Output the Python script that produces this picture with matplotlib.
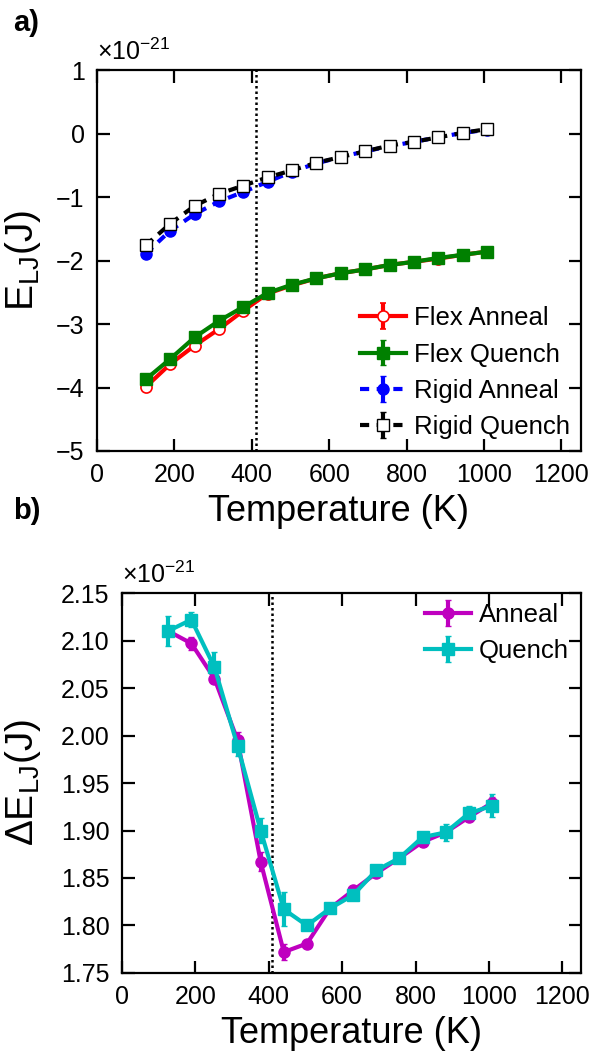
import matplotlib
matplotlib.use("Agg")
import matplotlib.pyplot as plt
from matplotlib.ticker import MultipleLocator, FormatStrFormatter

plt.rcParams['font.family'] = ['Liberation Sans', 'DejaVu Sans']
plt.rcParams['axes.unicode_minus'] = True

# temperatures (K); energies in units of 1e-21 J
temps = [126, 189, 252, 315, 378, 441, 504, 567, 630, 693, 756, 819, 882, 945, 1008]

flex_anneal = [-3.99, -3.63, -3.34, -3.08, -2.79, -2.52, -2.39, -2.28, -2.20, -2.14, -2.07, -2.02, -1.97, -1.91, -1.86]
flex_quench = [-3.87, -3.55, -3.21, -2.95, -2.73, -2.51, -2.38, -2.28, -2.20, -2.14, -2.07, -2.02, -1.96, -1.91, -1.86]
rigid_anneal = [-1.89, -1.53, -1.27, -1.07, -0.92, -0.76, -0.60, -0.47, -0.37, -0.28, -0.20, -0.13, -0.06, 0.01, 0.06]
rigid_quench = [-1.76, -1.42, -1.14, -0.95, -0.82, -0.69, -0.58, -0.46, -0.37, -0.28, -0.19, -0.13, -0.06, 0.01, 0.07]
flex_anneal_err = [0.02] * 14 + [0.05]
flex_quench_err = [0.02] * 14 + [0.05]
rigid_anneal_err = [0.02] * 15
rigid_quench_err = [0.02] * 15

delta_anneal = [2.110, 2.097, 2.060, 1.995, 1.867, 1.772, 1.781, 1.818, 1.837, 1.855, 1.871, 1.888, 1.898, 1.914, 1.929]
delta_quench = [2.110, 2.122, 2.072, 1.989, 1.900, 1.817, 1.800, 1.818, 1.832, 1.858, 1.871, 1.893, 1.898, 1.918, 1.926]
delta_anneal_err = [0.004, 0.007, 0.004, 0.009, 0.010, 0.008, 0.003, 0.003, 0.003, 0.003, 0.003, 0.004, 0.005, 0.004, 0.006]
delta_quench_err = [0.016, 0.008, 0.016, 0.011, 0.013, 0.018, 0.004, 0.003, 0.004, 0.003, 0.003, 0.005, 0.009, 0.008, 0.012]

t_transition = 410

fig = plt.figure(figsize=(5.92, 10.53), dpi=100)
ax1 = fig.add_axes([0.164, 0.5717, 0.817, 0.3618])
ax2 = fig.add_axes([0.206, 0.076, 0.775, 0.3608])


def style_axes(ax):
    for s in ax.spines.values():
        s.set_linewidth(1.6)
    ax.tick_params(direction='in', length=9, width=1.6, top=True, right=True,
                   labelsize=18, pad=9)
    ax.set_xlim(0, 1250)
    ax.xaxis.set_major_locator(MultipleLocator(200))


# Panel a
ax1.errorbar(temps, flex_anneal, yerr=flex_anneal_err, color='red', lw=3,
             marker='o', ms=8, mfc='white', mec='red', mew=1.2, capsize=2,
             label='Flex Anneal')
ax1.errorbar(temps, flex_quench, yerr=flex_quench_err, color='#008000', lw=3,
             marker='s', ms=8, capsize=2, label='Flex Quench')
ax1.errorbar(temps, rigid_anneal, yerr=rigid_anneal_err, color='blue', lw=3,
             ls=(0, (2.2, 1.8)), marker='o', ms=8, capsize=2, label='Rigid Anneal')
ax1.errorbar(temps, rigid_quench, yerr=rigid_quench_err, color='black', lw=3,
             ls=(0, (2.2, 1.8)), marker='s', ms=8.5, mfc='white', mec='black',
             mew=1.0, capsize=2, label='Rigid Quench')
ax1.axvline(t_transition, color='black', ls=(0, (1, 1.2)), lw=1.8)
style_axes(ax1)
ax1.set_ylim(-5, 1)
ax1.yaxis.set_major_locator(MultipleLocator(1))
ax1.set_xlabel('Temperature (K)', fontsize=26, labelpad=5)
ax1.set_ylabel('E$_\\mathregular{LJ}$(J)', fontsize=28)
ax1.yaxis.set_label_coords(-0.112, 0.5)
ax1.text(0.0, 1.012, '×10$^{\\mathregular{-21}}$', transform=ax1.transAxes,
         fontsize=18, ha='left', va='bottom')
ax1.legend(loc='lower right', bbox_to_anchor=(1.025, -0.03), frameon=False,
           fontsize=18.5, handlelength=1.8, handletextpad=0.3, labelspacing=0.48)
fig.text(0.022, 0.978, 'a)', fontsize=21, fontweight='bold', ha='left', va='center')

# Panel b
ax2.errorbar(temps, delta_anneal, yerr=delta_anneal_err, color='#BF00BF', lw=3,
             marker='o', ms=8, capsize=2.5, label='Anneal')
ax2.errorbar(temps, delta_quench, yerr=delta_quench_err, color='#00BFBF', lw=3,
             marker='s', ms=8, capsize=2.5, label='Quench')
ax2.axvline(t_transition, color='black', ls=(0, (1, 1.2)), lw=1.8)
style_axes(ax2)
ax2.set_ylim(1.75, 2.15)
ax2.yaxis.set_major_locator(MultipleLocator(0.05))
ax2.yaxis.set_major_formatter(FormatStrFormatter('%.2f'))
ax2.set_xlabel('Temperature (K)', fontsize=26, labelpad=5)
ax2.set_ylabel('ΔE$_\\mathregular{LJ}$(J)', fontsize=28)
ax2.yaxis.set_label_coords(-0.172, 0.5)
ax2.text(0.0, 1.012, '×10$^{\\mathregular{-21}}$', transform=ax2.transAxes,
         fontsize=18, ha='left', va='bottom')
ax2.legend(loc='upper right', bbox_to_anchor=(1.025, 1.035), frameon=False,
           fontsize=18.5, handlelength=1.8, handletextpad=0.3, labelspacing=0.48)
fig.text(0.022, 0.515, 'b)', fontsize=21, fontweight='bold', ha='left', va='center')

fig.savefig('out.png', dpi=100)
